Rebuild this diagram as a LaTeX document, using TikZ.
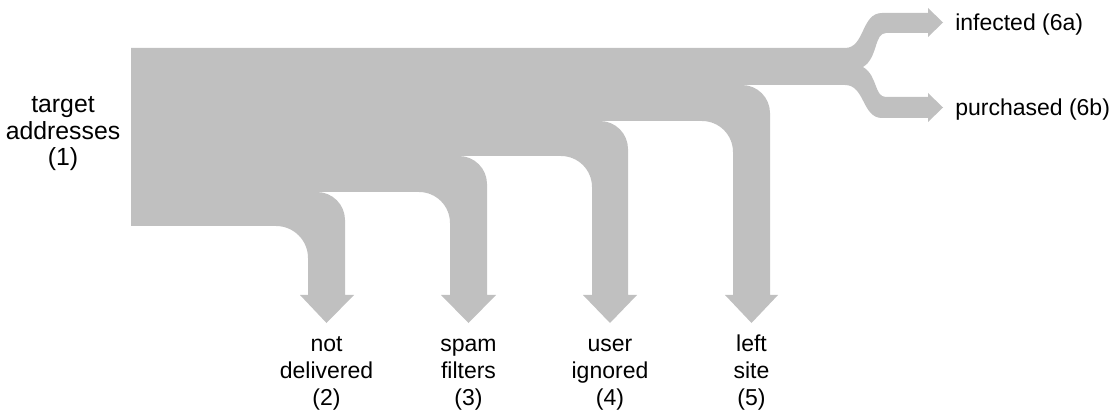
\documentclass[tikz,border=0pt]{standalone}
\usepackage{fontspec}
\setmainfont{Liberation Sans}
\definecolor{flowgray}{HTML}{C0C0C0}
\begin{document}
\begin{tikzpicture}[x=0.75pt, y=-0.75pt,
  flow/.style={fill=flowgray, draw=none},
  lbl/.style={inner sep=0pt, align=center, font=\fontsize{17.25}{20}\selectfont},
  srclbl/.style={inner sep=0pt, align=center, font=\fontsize{18.6}{20}\selectfont},
  sidelbl/.style={inner sep=0pt, font=\fontsize{17.25}{20}\selectfont}]
\useasboundingbox (0,0) rectangle (1117,413);
% the whole flow as one filled shape: bands bend down into the stems,
% the top band forks into two arrows on the right
\path[flow] (131,226) -- (131,48) -- (845,48)
  .. controls (865,48) and (861,13) .. (882,13)
  -- (928,13) -- (928,8) -- (943,22.5) -- (928,37) -- (928,33)
  -- (886,33) .. controls (874,33) and (878,58) .. (863,67)
  .. controls (878,76) and (874,97) .. (886,97)
  -- (928,97) -- (928,93) -- (943,107.5) -- (928,122) -- (928,118)
  -- (882,118) .. controls (862,118) and (865,85) .. (845,85)
  -- (742,85) .. controls (757.4,85) and (770,97.6) .. (770,113)
  -- (770,295) -- (778,295) -- (751.5,323) -- (725,295) -- (733,295)
  -- (733,152) .. controls (733,134.9) and (719.1,121) .. (702,121)
  -- (600,121) .. controls (615.4,121) and (628,133.6) .. (628,149)
  -- (628,295) -- (637,295) -- (610,323) -- (583,295) -- (592,295)
  -- (592,187) .. controls (592,169.9) and (578.1,156) .. (561,156)
  -- (459,156) .. controls (474.4,156) and (487,168.6) .. (487,184)
  -- (487,295) -- (496,295) -- (468.5,323) -- (441,295) -- (450,295)
  -- (450,223) .. controls (450,205.9) and (436.1,192) .. (419,192)
  -- (317,192) .. controls (332.4,192) and (345,204.6) .. (345,220)
  -- (345,295) -- (354,295) -- (326.5,323) -- (300,295) -- (308,295)
  -- (308,258) .. controls (308,240.3) and (293.7,226) .. (276,226)
  -- cycle;
% labels (anchor base = baseline of the last line)
\node[srclbl, anchor=base] (src) at (63,166) {target\\addresses\\(1)};
\node[lbl, anchor=base] (nd) at (326.5,405) {not\\delivered\\(2)};
\node[lbl, anchor=base] (sf) at (468.5,405) {spam\\filters\\(3)};
\node[lbl, anchor=base] (ui) at (610,405) {user\\ignored\\(4)};
\node[lbl, anchor=base] (ls) at (751.5,405) {left\\site\\(5)};
\node[sidelbl, anchor=base west] (inf) at (955,31) {infected (6a)};
\node[sidelbl, anchor=base west] (pur) at (955,116) {purchased (6b)};
\end{tikzpicture}
\end{document}
